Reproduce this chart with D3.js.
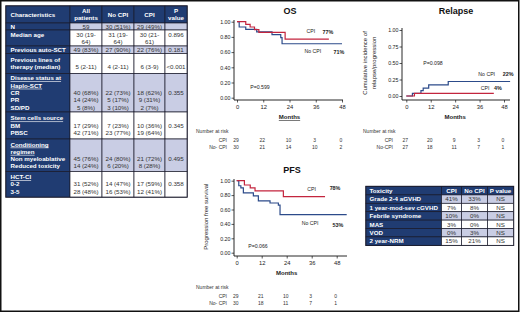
<!DOCTYPE html>
<html>
<head>
<meta charset="utf-8">
<script src="https://cdn.jsdelivr.net/npm/d3@7/dist/d3.min.js"></script>
<style>
body { margin: 0; background: #fff; }
svg { display: block; }
</style>
</head>
<body>
<div id="viz"></div>
<script>
const width = 520
const height = 313
const font = "'Liberation Sans', Arial, sans-serif"

const navy = "#203c72"
const lavender = "#c9cde4"
const cellLine = "#1c1c2c"
const red = "#c3253e"
const blue = "#2c4b8a"

// ---------- characteristics table ----------
const charHeader = [["Characteristics"], ["All", "patients"], ["No CPI"], ["CPI"], ["P", "value"]]
const charLabels = [
    ["N"], ["Median age"], ["Previous auto-SCT"], ["Previous lines of", "therapy (median)"],
    ["Disease status at", "Haplo-SCT", "CR", "PR", "SD/PD"],
    ["Stem cells source", "BM", "PBSC"],
    ["Conditioning", "regimen", "Non myeloablative", "Reduced toxicity"],
    ["HCT-CI", "0-2", "3-5"]]
const charUnderlined = [[], [], [], [], [0, 1], [0], [0, 1], [0]]
const allPatients = [["59"], ["30 (19-", "64)"], ["49 (83%)"], ["", "5 (2-11)"],
    ["", "", "40 (68%)", "14 (24%)", "5 (8%)"], ["", "17 (29%)", "42 (71%)"],
    ["", "", "45 (76%)", "14 (24%)"], ["", "31 (52%)", "28 (48%)"]]
const noCpiCol = [["30 (51%)"], ["31 (19-", "64)"], ["27 (90%)"], ["", "4 (2-11)"],
    ["", "", "22 (73%)", "5 (17%)", "3 (10%)"], ["", "7 (23%)", "23 (77%)"],
    ["", "", "24 (80%)", "6 (20%)"], ["", "14 (47%)", "16 (53%)"]]
const cpiCol = [["29 (49%)"], ["30 (21-", "61)"], ["22 (76%)"], ["", "6 (3-9)"],
    ["", "", "18 (62%)", "9 (31%)", "2 (7%)"], ["", "10 (36%)", "19 (64%)"],
    ["", "", "21 (72%)", "8 (28%)"], ["", "17 (59%)", "12 (41%)"]]
const pCol = [[""], ["0.896"], ["0.181"], ["", "<0.001"],
    ["", "", "0.355"], ["", "0.345"], ["", "", "0.495"], ["", "0.358"]]

// ---------- toxicity table ----------
const toxHeader = ["Toxicity", "CPI", "No CPI", "P value"]
const toxNames = ["Grade 2-4 aGVHD", "1 year-mod-sev cGVHD", "Febrile syndrome", "MAS", "VOD", "2 year-NRM"]
const toxCpi = ["41%", "7%", "10%", "3%", "0%", "15%"]
const toxNoCpi = ["33%", "8%", "0%", "0%", "3%", "21%"]
const toxP = ["NS", "NS", "NS", "NS", "NS", "NS"]

// ---------- curves (months, value) ----------
const monthTicks = [0, 12, 24, 36, 48]
const osCpi = [[0, 1], [4, 0.965], [6, 0.93], [8, 0.895], [10, 0.86], [22, 0.77], [42, 0.77]]
const osNoCpi = [[0, 1], [1, 0.93], [4, 0.90], [9, 0.865], [16, 0.83], [20, 0.79], [20.6, 0.71], [48, 0.71]]
const relCpi = [[0, 0], [4, 0.04], [43, 0.04]]
const relNoCpi = [[0, 0], [3, 0.04], [7.2, 0.08], [8.3, 0.12], [11, 0.17], [20.6, 0.22], [51, 0.22]]
const pfsCpi = [[0, 1], [3.7, 0.94], [6.5, 0.90], [8.8, 0.86], [22.4, 0.78], [42.4, 0.78]]
const pfsNoCpi = [[0, 1], [1, 0.93], [2, 0.90], [3.2, 0.83], [8, 0.79], [10.4, 0.72], [16, 0.69], [20, 0.66], [20.8, 0.53], [52.8, 0.53]]

const osRiskCpi = [29, 22, 10, 3, 0]
const osRiskNoCpi = [30, 21, 14, 10, 2]
const relRiskCpi = [27, 20, 9, 3, 0]
const relRiskNoCpi = [27, 18, 11, 7, 1]
const pfsRiskCpi = [29, 21, 10, 3, 0]
const pfsRiskNoCpi = [30, 18, 11, 7, 1]

const svg = d3.select("#viz").append("svg").attr("width", width).attr("height", height)
    .style("font-family", font)

svg.append("rect").attr("x", 0.75).attr("y", 0.75).attr("width", width - 2).attr("height", height - 2.5)
    .attr("fill", "#fff").attr("stroke", "#111").attr("stroke-width", 1.5)

// ---------- draw characteristics table ----------
const colX = [6, 70, 102, 134, 165, 187]
const charRowHeights = [17, 7, 16, 7.5, 20, 38.5, 27, 32.5, 25.5]
const lineH = 7.3
const fs = 6.2

const tableG = svg.append("g")
const rowTops = [6]
charRowHeights.forEach(h => rowTops.push(rowTops[rowTops.length - 1] + h))

tableG.append("rect").attr("x", colX[0]).attr("y", rowTops[0]).attr("width", colX[5] - colX[0])
    .attr("height", rowTops[rowTops.length - 1] - rowTops[0]).attr("fill", navy)
    .attr("stroke", cellLine).attr("stroke-width", 1.4)

function cellText(g, lines, x, top, h, anchor, opts) {
    const n = lines.length
    const y0 = top + h / 2 - (n - 1) * lineH / 2
    lines.forEach((t, i) => {
        if (!t) return
        g.append("text").attr("x", x).attr("y", y0 + i * lineH).attr("dy", "0.36em")
            .attr("text-anchor", anchor).attr("font-size", fs)
            .attr("font-weight", opts.bold ? "bold" : "normal")
            .attr("fill", opts.fill)
            .attr("text-decoration", opts.underline && opts.underline.includes(i) ? "underline" : null)
            .text(t)
    })
}

// header row
charHeader.forEach((lines, c) => {
    tableG.append("rect").attr("x", colX[c]).attr("y", rowTops[0]).attr("width", colX[c + 1] - colX[c])
        .attr("height", charRowHeights[0]).attr("fill", navy).attr("stroke", cellLine).attr("stroke-width", 0.7)
    cellText(tableG, lines, c === 0 ? colX[0] + 4.5 : (colX[c] + colX[c + 1]) / 2, rowTops[0], charRowHeights[0],
        c === 0 ? "start" : "middle", {bold: true, fill: "#fff"})
})

const dataCols = [allPatients, noCpiCol, cpiCol, pCol]
charLabels.forEach((labelLines, r) => {
    const top = rowTops[r + 1], h = charRowHeights[r + 1]
    const nLines = Math.max(labelLines.length, ...dataCols.map(col => col[r].length))
    const pad = arr => arr.concat(Array(nLines - arr.length).fill(""))
    tableG.append("rect").attr("x", colX[0]).attr("y", top).attr("width", colX[1] - colX[0]).attr("height", h)
        .attr("fill", navy).attr("stroke", cellLine).attr("stroke-width", 0.7)
    cellText(tableG, pad(labelLines), colX[0] + 4.5, top, h, "start", {bold: true, fill: "#fff", underline: charUnderlined[r]})
    dataCols.forEach((col, c) => {
        tableG.append("rect").attr("x", colX[c + 1]).attr("y", top).attr("width", colX[c + 2] - colX[c + 1]).attr("height", h)
            .attr("fill", r % 2 === 0 ? lavender : "#fff").attr("stroke", cellLine).attr("stroke-width", 0.7)
        cellText(tableG, pad(col[r]), (colX[c + 1] + colX[c + 2]) / 2, top, h, "middle", {bold: false, fill: "#333"})
    })
})

// ---------- draw toxicity table ----------
const toxX = [366, 441.5, 461.5, 487.5, 513.5]
const toxTop = 186.5
const toxRowH = 8.4
const toxG = svg.append("g")
toxG.append("rect").attr("x", toxX[0]).attr("y", toxTop).attr("width", toxX[4] - toxX[0])
    .attr("height", toxRowH * (toxNames.length + 1)).attr("fill", navy).attr("stroke", cellLine).attr("stroke-width", 1.4)
const toxRows = [toxHeader].concat(toxNames.map((n, i) => [n, toxCpi[i], toxNoCpi[i], toxP[i]]))
toxRows.forEach((row, r) => {
    const top = toxTop + r * toxRowH
    row.forEach((t, c) => {
        const isNavy = r === 0 || c === 0
        toxG.append("rect").attr("x", toxX[c]).attr("y", top).attr("width", toxX[c + 1] - toxX[c]).attr("height", toxRowH)
            .attr("fill", isNavy ? navy : (r % 2 === 1 ? lavender : "#fff"))
            .attr("stroke", cellLine).attr("stroke-width", 0.7)
        cellText(toxG, [t], c === 0 ? toxX[0] + 3.5 : (toxX[c] + toxX[c + 1]) / 2, top, toxRowH,
            c === 0 ? "start" : "middle", {bold: isNavy, fill: isNavy ? "#fff" : "#333"})
    })
})

// ---------- KM charts ----------
function drawKM(cfg) {
    const g = svg.append("g")
    const x = d3.scaleLinear().domain([0, 48]).range([cfg.x0, cfg.x48])
    const y = d3.scaleLinear().domain([0, 1]).range([cfg.y0, cfg.y1])

    g.append("text").attr("x", cfg.titleX).attr("y", cfg.titleY).attr("text-anchor", "middle")
        .attr("font-size", 9).attr("font-weight", "bold").attr("fill", "#111").text(cfg.title)

    const yAxis = d3.axisLeft(y).tickValues(cfg.yTicks).tickFormat(d3.format(".2f")).tickSize(2.5)
    const yg = g.append("g").attr("transform", `translate(${cfg.axisX},0)`).call(yAxis)
    yg.select(".domain").remove()
    yg.selectAll("line").attr("stroke", "#111").attr("stroke-width", 0.7)
    yg.selectAll("text").attr("font-size", 5.3).attr("font-family", font).attr("fill", "#222").attr("x", -3.5)

    const xAxis = d3.axisBottom(x).tickValues(monthTicks).tickSize(2.5)
    const xg = g.append("g").attr("transform", `translate(0,${cfg.axisY})`).call(xAxis)
    xg.select(".domain").remove()
    xg.selectAll("line").attr("stroke", "#111").attr("stroke-width", 0.7)
    xg.selectAll("text").attr("font-size", 5.8).attr("font-family", font).attr("fill", "#222").attr("y", 4.5)

    g.append("line").attr("x1", cfg.axisX).attr("x2", cfg.axisX).attr("y1", cfg.axisTop).attr("y2", cfg.axisY)
        .attr("stroke", "#111").attr("stroke-width", 0.9)
    g.append("line").attr("x1", cfg.axisX).attr("x2", cfg.axisRight).attr("y1", cfg.axisY).attr("y2", cfg.axisY)
        .attr("stroke", "#111").attr("stroke-width", 0.9)

    g.append("text").attr("x", x(24)).attr("y", cfg.axisY + 19).attr("text-anchor", "middle")
        .attr("font-size", 6).attr("font-weight", "bold").attr("fill", "#222")
        .attr("text-decoration", cfg.underlineMonths ? "underline" : null).text("Months")

    if (cfg.yLabel) {
        cfg.yLabel.forEach((t, i) => {
            g.append("text").attr("transform", `translate(${cfg.yLabelX + i * 9},${(cfg.y0 + cfg.y1) / 2}) rotate(-90)`)
                .attr("text-anchor", "middle").attr("font-size", 6).attr("fill", "#222").text(t)
        })
    }

    const line = d3.line().x(d => x(d[0])).y(d => y(d[1])).curve(d3.curveStepAfter)
    g.append("path").attr("d", line(cfg.blue)).attr("fill", "none").attr("stroke", blue).attr("stroke-width", 1.2)
    g.append("path").attr("d", line(cfg.red)).attr("fill", "none").attr("stroke", red).attr("stroke-width", 1.2)

    cfg.notes.forEach(n => {
        g.append("text").attr("x", x(n[0])).attr("y", y(n[1])).attr("dy", "0.35em").attr("text-anchor", "middle")
            .attr("font-size", n[3] ? 5.4 : 5.2).attr("font-weight", n[3] ? "bold" : "normal").attr("fill", "#222").text(n[2])
    })

    g.append("text").attr("x", cfg.riskLeft).attr("y", cfg.riskY).attr("dy", "0.35em")
        .attr("font-size", 5).attr("fill", "#333").text("Number at risk")
    const riskRows = [[cfg.cpiName, cfg.riskCpi], [cfg.noCpiName, cfg.riskNoCpi]]
    riskRows.forEach((row, i) => {
        const ry = cfg.riskY + 9 + i * 7
        g.append("text").attr("x", cfg.riskLabelX).attr("y", ry).attr("dy", "0.35em").attr("text-anchor", "end")
            .attr("font-size", 5).attr("fill", "#333").text(row[0])
        g.selectAll(null).data(row[1]).enter().append("text")
            .attr("x", (d, j) => x(monthTicks[j]) - 1).attr("y", ry).attr("dy", "0.35em").attr("text-anchor", "middle")
            .attr("font-size", 5).attr("fill", "#333").text(d => d)
    })
}

drawKM({
    title: "OS", titleX: 290, titleY: 14,
    x0: 237, x48: 342, y0: 97.7, y1: 21.7, axisX: 234, axisY: 100, axisTop: 20, axisRight: 343,
    yTicks: [0, 0.2, 0.4, 0.6, 0.8, 1], underlineMonths: true,
    red: osCpi, blue: osNoCpi,
    notes: [[33.8, 0.87, "CPI"], [41.6, 0.86, "77%", true], [34.7, 0.61, "No CPI"], [46.6, 0.60, "71%", true], [10.5, 0.14, "P=0.599"]],
    riskLeft: 196, riskY: 131, riskLabelX: 227, cpiName: "CPI", noCpiName: "No- CPI",
    riskCpi: osRiskCpi, riskNoCpi: osRiskNoCpi
})

drawKM({
    title: "Relapse", titleX: 456, titleY: 14,
    x0: 406.3, x48: 504, y0: 96, y1: 30, axisX: 402, axisY: 100, axisTop: 28, axisRight: 510,
    yTicks: [0, 0.25, 0.5, 0.75, 1],
    yLabel: ["Cumulative incidence of", "relapse/progression"], yLabelX: 367,
    red: relCpi, blue: relNoCpi,
    notes: [[39.5, 0.333, "No CPI"], [50, 0.333, "22%", true], [38.7, 0.12, "CPI"], [45, 0.12, "4%", true], [13.1, 0.5, "P=0.098"]],
    riskLeft: 363, riskY: 131, riskLabelX: 393, cpiName: "CPI", noCpiName: "No-CPI",
    riskCpi: relRiskCpi, riskNoCpi: relRiskNoCpi
})

drawKM({
    title: "PFS", titleX: 292, titleY: 173,
    x0: 236.7, x48: 336.7, y0: 252.7, y1: 180.7, axisX: 234, axisY: 256, axisTop: 179, axisRight: 347,
    yTicks: [0, 0.2, 0.4, 0.6, 0.8, 1],
    yLabel: ["Progression free survival"], yLabelX: 208,
    red: pfsCpi, blue: pfsNoCpi,
    notes: [[36, 0.885, "CPI"], [47.2, 0.9, "78%", true], [35.2, 0.41, "No CPI"], [48.6, 0.385, "53%", true], [10.2, 0.097, "P=0.066"]],
    riskLeft: 196, riskY: 287, riskLabelX: 227, cpiName: "CPI", noCpiName: "No- CPI",
    riskCpi: pfsRiskCpi, riskNoCpi: pfsRiskNoCpi
})
</script>
</body>
</html>
